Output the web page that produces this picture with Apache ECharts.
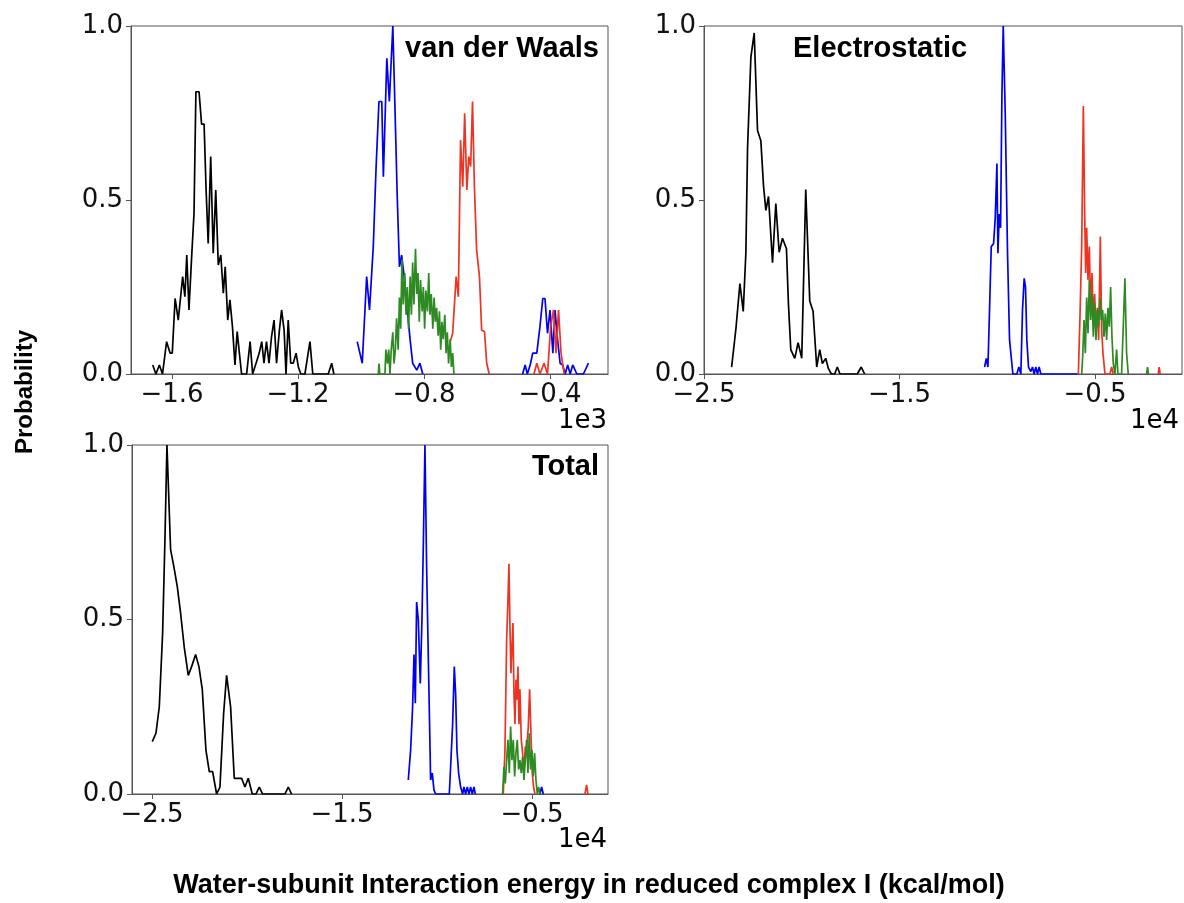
<!DOCTYPE html>
<html>
<head>
<meta charset="utf-8">
<script src="https://cdn.jsdelivr.net/npm/echarts@6/dist/echarts.min.js"></script>
<style>
  html, body { margin: 0; padding: 0; background: #fff; }
  #main { width: 1184px; height: 903px; }
</style>
</head>
<body>
<div id="main"></div>
<script>
// energy (kcal/mol), probability ; '-' breaks the line
var vdwBlack = [[-1661,0.026],[-1651,0],[-1640,0.026],[-1630,0],[-1617,0.093],[-1606,0.06],[-1599,0.06],[-1590,0.217],[-1580,0.155],[-1575,0.155],[-1566,0.28],[-1559,0.222],[-1553,0.342],[-1546,0.184],[-1538,0.328],[-1530,0.462],[-1524,0.811],[-1514,0.811],[-1506,0.718],[-1498,0.718],[-1492,0.538],[-1485,0.375],[-1477,0.625],[-1469,0.347],[-1461,0.529],[-1453,0.313],[-1445,0.342],[-1437,0.232],[-1431,0.308],[-1423,0.155],[-1416,0.213],[-1408,0.136],[-1400,0.026],[-1393,0.122],[-1386,0.06],[-1379,0],[-1363,0],[-1352,0.093],[-1344,0],[-1333,0.031],[-1323,0.06],[-1315,0.093],[-1308,0.031],[-1300,0.093],[-1292,0.031],[-1284,0.107],[-1276,0.155],[-1268,0.031],[-1259,0.126],[-1252,0.184],[-1244,0.126],[-1238,0],[-1231,0.155],[-1223,0.031],[-1215,0.031],[-1206,0.06],[-1199,0.021],[-1191,0],[-1178,0],[-1162,0.093],[-1153,0],[-1104,0],[-1093,0.031],[-1086,0]]
var vdwBlue = [[-1012,0.093],[-996,0.031],[-982,0.28],[-973,0.184],[-961,0.366],[-952,0.596],[-943,0.783],[-934,0.783],[-929,0.567],[-918,0.907],[-910,0.783],[-899,1.0],[-892,0.759],[-885,0.51],[-878,0.308],[-871,0.342],[-863,0.28],[-855,0.203],[-844,0.098],[-836,0.031],[-823,0.011],[-813,0.031],[-804,0],[-700,'-'],[-487,0],[-479,0.026],[-472,0],[-463,0.026],[-455,0.06],[-442,0.06],[-432,0.136],[-423,0.217],[-416,0.217],[-408,0.117],[-400,0.184],[-391,0.06],[-384,0.184],[-377,0.107],[-368,0.031],[-360,0.026],[-352,0],[-344,0.026],[-336,0],[-328,0.026],[-315,0],[-294,0],[-278,0.031]]
var vdwRed = [[-717,0.093],[-709,0.117],[-698,0.28],[-691,0.222],[-684,0.672],[-677,0.538],[-671,0.749],[-664,0.529],[-658,0.625],[-652,0.596],[-646,0.783],[-640,0.538],[-633,0.356],[-624,0.28],[-617,0.126],[-608,0.122],[-601,0.031],[-593,0],[-500,'-'],[-451,0],[-442,0.031],[-432,0],[-419,0.031],[-408,0],[-398,0.136],[-389,0.184],[-381,0.06],[-373,0.184],[-365,0.06],[-355,0]]
var vdwGreen = [[-945,0],[-943,0.03],[-940,0],[-924,0],[-921,0.07],[-916,0.03],[-912,0.07],[-908,0],[-904,0.07],[-899,0.12],[-895,0.03],[-891,0.07],[-887,0.16],[-882,0.07],[-878,0.22],[-874,0.13],[-870,0.33],[-866,0.2],[-861,0.29],[-857,0.17],[-853,0.25],[-849,0.13],[-844,0.28],[-840,0.17],[-836,0.32],[-832,0.2],[-827,0.36],[-823,0.23],[-819,0.29],[-815,0.15],[-811,0.27],[-806,0.18],[-802,0.25],[-798,0.13],[-794,0.24],[-789,0.18],[-785,0.29],[-781,0.17],[-777,0.23],[-772,0.13],[-768,0.22],[-764,0.15],[-760,0.19],[-755,0.11],[-751,0.18],[-747,0.07],[-743,0.15],[-739,0.1],[-734,0.17],[-730,0.06],[-726,0.12],[-722,0.03],[-717,0.1],[-713,0.02],[-709,0.06],[-705,0]]

var esBlack = [[-23588,0.02],[-23367,0.13],[-23163,0.26],[-22993,0.18],[-22857,0.35],[-22772,0.65],[-22602,0.91],[-22432,0.98],[-22262,0.7],[-22092,0.67],[-21955,0.54],[-21836,0.47],[-21700,0.51],[-21496,0.32],[-21326,0.49],[-21156,0.35],[-20986,0.39],[-20782,0.36],[-20680,0.2],[-20561,0.07],[-20357,0.045],[-20187,0.09],[-20000,0.045],[-19796,0.53],[-19591,0.21],[-19421,0.18],[-19234,0.02],[-19081,0.07],[-18945,0.03],[-18775,0.045],[-18639,0.016],[-18486,0],[-18316,0],[-18180,0.02],[-18044,0],[-17160,0],[-16956,0.02],[-16785,0]]
var esBlue = [[-10647,0.02],[-10562,0.045],[-10477,0.02],[-10409,0.155],[-10307,0.366],[-10187,0.375],[-10102,0.45],[-10017,0.605],[-9966,0.347],[-9898,0.46],[-9830,0.42],[-9762,0.8],[-9694,1.0],[-9592,0.75],[-9474,0.347],[-9371,0.098],[-9201,0],[-8997,0],[-8895,0.02],[-8793,0],[-8708,0.184],[-8623,0.275],[-8555,0.25],[-8487,0.098],[-8402,0.02],[-8283,0.007],[-8198,0.02],[-8113,0],[-8028,0.02],[-7943,0],[-7858,0.02],[-7772,0],[-5900,0]]
var esRed = [[-5851,0],[-5766,0.17],[-5681,0.366],[-5596,0.77],[-5528,0.46],[-5477,0.29],[-5426,0.42],[-5358,0.27],[-5290,0.366],[-5222,0.19],[-5154,0.29],[-5086,0.155],[-5018,0.23],[-4950,0.117],[-4882,0.19],[-4813,0.098],[-4728,0.395],[-4660,0.126],[-4592,0.06],[-4490,0],[-4235,0],[-4150,0.02],[-4065,0],[-3000,'-'],[-1769,0],[-1718,0.02],[-1667,0]]
var esGreen = [[-5681,0],[-5630,0.05],[-5562,0.155],[-5494,0.06],[-5426,0.22],[-5358,0.117],[-5290,0.27],[-5222,0.155],[-5154,0.23],[-5086,0.107],[-5018,0.203],[-4950,0.098],[-4882,0.184],[-4813,0.136],[-4745,0.22],[-4677,0.155],[-4609,0.184],[-4541,0.107],[-4473,0.174],[-4405,0.098],[-4337,0.19],[-4269,0.136],[-4201,0.25],[-4133,0.107],[-4065,0.03],[-3980,0],[-3895,0.07],[-3827,0],[-3640,0],[-3521,0.19],[-3470,0.275],[-3384,0.06],[-3300,0],[-3000,'-'],[-2364,0],[-2313,0.02],[-2262,0]]

var totBlack = [[-24983,0.15],[-24790,0.174],[-24614,0.25],[-24439,0.46],[-24316,0.73],[-24211,1.0],[-24018,0.7],[-23843,0.65],[-23667,0.594],[-23492,0.518],[-23299,0.42],[-23088,0.34],[-22913,0.365],[-22702,0.4],[-22527,0.365],[-22352,0.3],[-22159,0.126],[-21983,0.064],[-21808,0.064],[-21597,0],[-21422,0.02],[-21229,0.23],[-21071,0.34],[-20861,0.25],[-20668,0.045],[-20457,0.045],[-20282,0.045],[-20107,0.02],[-19931,0.045],[-19721,0],[-19527,0],[-19352,0.02],[-19177,0],[-18001,0],[-17826,0.02],[-17651,0]]
var totBlue = [[-11510,0.04],[-11387,0.126],[-11282,0.25],[-11211,0.4],[-11141,0.26],[-11071,0.55],[-10984,0.5],[-10878,0.317],[-10791,0.5],[-10720,0.71],[-10633,1.0],[-10545,0.65],[-10440,0.346],[-10335,0.04],[-10247,0.06],[-10159,0.011],[-10071,0],[-9352,0],[-9282,0.078],[-9177,0.2],[-9089,0.365],[-9019,0.288],[-8949,0.126],[-8861,0.06],[-8756,0.02],[-8651,0],[-8581,0.02],[-8493,0],[-8405,0.02],[-8317,0],[-8230,0.02],[-8142,0],[-8054,0.02],[-7984,0],[-6000,'-'],[-4582,0],[-4494,0.02],[-4406,0]]
var totRed = [[-6511,0],[-6423,0.126],[-6335,0.44],[-6265,0.556],[-6213,0.66],[-6160,0.48],[-6107,0.346],[-6055,0.42],[-6002,0.49],[-5949,0.288],[-5897,0.2],[-5844,0.327],[-5792,0.27],[-5739,0.365],[-5686,0.2],[-5634,0.3],[-5564,0.155],[-5494,0.117],[-5423,0.06],[-5353,0.136],[-5283,0.126],[-5195,0.193],[-5125,0.3],[-5055,0.174],[-4985,0.06],[-4915,0.02],[-4845,0],[-3000,'-'],[-2213,0],[-2126,0.026],[-2056,0]]
var totGreen = [[-6546,0],[-6476,0.078],[-6405,0.03],[-6335,0.097],[-6265,0.155],[-6195,0.06],[-6125,0.193],[-6055,0.097],[-5984,0.155],[-5914,0.05],[-5844,0.117],[-5774,0.155],[-5704,0.07],[-5634,0.097],[-5564,0.06],[-5494,0.107],[-5423,0.04],[-5353,0.097],[-5283,0.155],[-5213,0.06],[-5143,0.174],[-5073,0.07],[-5002,0.126],[-4932,0.05],[-4862,0.117],[-4792,0.04],[-4722,0],[-4651,0.02],[-4582,0]]

var vdwTicks = [-1600, -1200, -800, -400]
var e4Ticks = [-25000, -15000, -5000]
var yTicks = [0, 0.5, 1]

var colors = ['#000000', '#0000f0', '#ee3322', '#2e8a22']
var panels = [
  { lines: [vdwBlack, vdwBlue, vdwRed, vdwGreen], min: -1730, max: -216, ticks: vdwTicks, scale: 1e3 },
  { lines: [esBlack, esBlue, esRed, esGreen], min: -25000, max: -550, ticks: e4Ticks, scale: 1e4 },
  { lines: [totBlack, totBlue, totRed, totGreen], min: -26050, max: -1000, ticks: e4Ticks, scale: 1e4 }
]

var chart = echarts.init(document.getElementById('main'))
var frame = '#555'
var tickFont = { fontFamily: 'DejaVu Sans', fontSize: 26, color: '#111' }

var grids = [
  { left: 131, top: 26, width: 477, height: 348 },
  { left: 704, top: 26, width: 478, height: 348 },
  { left: 132, top: 445, width: 476, height: 349 }
].map(function (g) {
  return Object.assign({ show: true, borderColor: frame, borderWidth: 1, backgroundColor: 'transparent', containLabel: false }, g)
})

var xAxes = [], yAxes = [], series = []
panels.forEach(function (p, i) {
  xAxes.push({
    type: 'value', gridIndex: i, min: p.min, max: p.max,
    splitLine: { show: false },
    axisLine: { show: true, lineStyle: { color: frame, width: 1 } },
    axisTick: { show: true, length: 5, lineStyle: { color: frame }, customValues: p.ticks },
    axisLabel: Object.assign({
      margin: 8, customValues: p.ticks,
      formatter: function (v) { return (v / p.scale).toFixed(1).replace('-', '\u2212') }
    }, tickFont)
  })
  yAxes.push({
    type: 'value', gridIndex: i, min: 0, max: 1, interval: 0.5,
    splitLine: { show: false },
    axisLine: { show: true, lineStyle: { color: frame, width: 1 } },
    axisTick: { show: true, length: 5, lineStyle: { color: frame } },
    axisLabel: Object.assign({
      margin: 8,
      formatter: function (v) { return v.toFixed(1) }
    }, tickFont)
  })
  p.lines.forEach(function (d, k) {
    series.push({
      type: 'line', xAxisIndex: i, yAxisIndex: i, data: d,
      showSymbol: false, connectNulls: false, clip: true,
      lineStyle: { color: colors[k], width: 1.7 },
      itemStyle: { color: colors[k] },
      z: 2 + k
    })
  })
})

function label(txt, x, y, opts) {
  return {
    type: 'text', x: x, y: y, rotation: opts.rotation || 0, z: 10,
    style: {
      text: txt,
      font: opts.font,
      fill: '#000',
      align: opts.align || 'left',
      verticalAlign: 'middle'
    }
  }
}

var titleFont = 'bold 29px "Liberation Sans", Arial, sans-serif'
var offFont = '26px "DejaVu Sans"'
var axFont = 'bold 24px "Liberation Sans", Arial, sans-serif'
var xFont = 'bold 27px "Liberation Sans", Arial, sans-serif'

chart.setOption({
  animation: false,
  backgroundColor: '#fff',
  grid: grids,
  xAxis: xAxes,
  yAxis: yAxes,
  series: series,
  graphic: [
    label('van der Waals', 599, 49, { font: titleFont, align: 'right' }),
    label('Electrostatic', 793, 49, { font: titleFont }),
    label('Total', 599, 467, { font: titleFont, align: 'right' }),
    label('1e3', 607, 421, { font: offFont, align: 'right' }),
    label('1e4', 1179, 421, { font: offFont, align: 'right' }),
    label('1e4', 607, 840, { font: offFont, align: 'right' }),
    label('Probability', 25, 392, { font: axFont, align: 'center', rotation: Math.PI / 2 }),
    label('Water-subunit Interaction energy in reduced complex I (kcal/mol)', 589, 886, { font: xFont, align: 'center' })
  ]
})
</script>
</body>
</html>
